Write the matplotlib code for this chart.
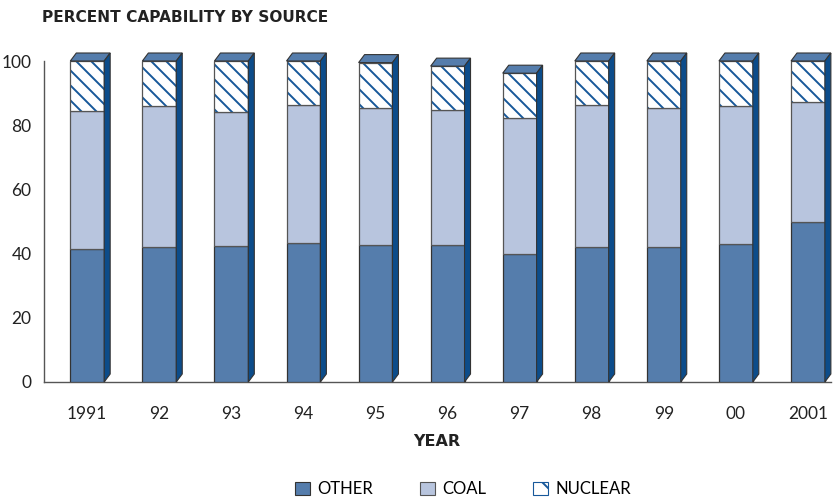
import numpy as np
import matplotlib
matplotlib.use("Agg")
import matplotlib.pyplot as plt
from matplotlib.patches import Polygon, Patch

# ------------------------------------------------------------
# Data (percent of generating capability)
# ------------------------------------------------------------
years   = ["1991", "92", "93", "94", "95", "96", "97", "98", "99", "00", "2001"]
other   = [41.5, 42.1, 42.5, 43.2, 42.8, 42.7, 39.8, 42.0, 42.0, 43.0, 49.9]
coal    = [42.9, 43.8, 41.6, 43.0, 42.7, 42.0, 42.3, 44.3, 43.5, 43.0, 37.3]
nuclear = [15.6, 14.1, 15.9, 13.8, 14.0, 13.7, 14.1, 13.7, 14.5, 14.0, 12.8]

C_OTHER = "#557dac"
C_COAL  = "#b8c5de"
C_SIDE  = "#0c4c8a"
C_HATCH = "#17589a"
C_EDGE  = "#333333"

# dpi 90 gives a tighter hatch; K keeps text sizes in the same pixel scale
DPI = 90
K = 100 / DPI

plt.rcParams["font.family"] = ["Lato", "DejaVu Sans"]
plt.rcParams["hatch.linewidth"] = 1.4 * K

fig = plt.figure(figsize=(834 / DPI, 502 / DPI), dpi=DPI)
ax = fig.add_axes([44 / 834, 120 / 502, (831 - 44) / 834, 321 / 502])

x = np.arange(len(years))
w = 0.47
other = np.array(other)
coal = np.array(coal)
nuclear = np.array(nuclear)
total = other + coal + nuclear

ax.bar(x, other, w, color=C_OTHER, edgecolor=C_EDGE, linewidth=0.9 * K, zorder=3)
ax.bar(x, coal, w, bottom=other, color=C_COAL, edgecolor="#555555",
       linewidth=0.9 * K, zorder=3)
# hatch drawn with blue edges, outline drawn on top in grey
ax.bar(x, nuclear, w, bottom=other + coal, color="white", edgecolor=C_HATCH,
       hatch="\\\\", linewidth=0, zorder=3)
ax.bar(x, nuclear, w, bottom=other + coal, fill=False, edgecolor="#555555",
       linewidth=0.9 * K, zorder=4)

# pseudo-3D top and side faces
ax.set_xlim(-0.6, 10.32)
ax.set_ylim(0, 100)
px_x = (10.32 + 0.6) / 787
px_y = 100 / 321
dx, dy = 6 * px_x, 8 * px_y
for xi, t in zip(x, total):
    l, r = xi - w / 2, xi + w / 2
    top = Polygon([(l, t), (r, t), (r + dx, t + dy), (l + dx, t + dy)],
                  closed=True, facecolor=C_OTHER, edgecolor=C_EDGE,
                  linewidth=0.8 * K, clip_on=False, zorder=5)
    side = Polygon([(r, 0), (r + dx, dy), (r + dx, t + dy), (r, t)],
                   closed=True, facecolor=C_SIDE, edgecolor=C_EDGE,
                   linewidth=0.8 * K, clip_on=False, zorder=5)
    ax.add_patch(top)
    ax.add_patch(side)

ax.set_yticks([0, 20, 40, 60, 80, 100])
ax.set_xticks(x)
ax.set_xticklabels(years)
ax.tick_params(axis="both", length=0, labelsize=12.5 * K, colors="#222222")
ax.tick_params(axis="x", pad=17 * K)
ax.tick_params(axis="y", pad=9 * K)
for s in ["top", "right"]:
    ax.spines[s].set_visible(False)
for s in ["left", "bottom"]:
    ax.spines[s].set_color("#555555")
    ax.spines[s].set_linewidth(1.0 * K)

fig.text(42 / 834, 1 - 17 / 502, "PERCENT CAPABILITY BY SOURCE",
         fontsize=11.1 * K, fontweight="bold", va="center", ha="left",
         family="DejaVu Sans", color="#222222")
fig.text(437 / 834, 1 - 441 / 502, "YEAR", fontsize=11.5 * K, fontweight="bold",
         va="center", ha="center", family="DejaVu Sans", color="#222222")

handles = [
    Patch(facecolor=C_OTHER, edgecolor=C_EDGE, linewidth=0.8 * K, label="OTHER"),
    Patch(facecolor=C_COAL, edgecolor="#555555", linewidth=0.8 * K, label="COAL"),
    Patch(facecolor="white", edgecolor=C_HATCH, hatch="\\", linewidth=0.8 * K,
          label="NUCLEAR"),
]
fig.legend(handles=handles, loc="center", bbox_to_anchor=(463 / 834, 1 - 489 / 502),
           ncol=3, frameon=False, fontsize=12 * K, handlelength=0.9,
           handleheight=0.85, handletextpad=0.45, columnspacing=2.8)

fig.savefig("out.png", dpi=DPI)
